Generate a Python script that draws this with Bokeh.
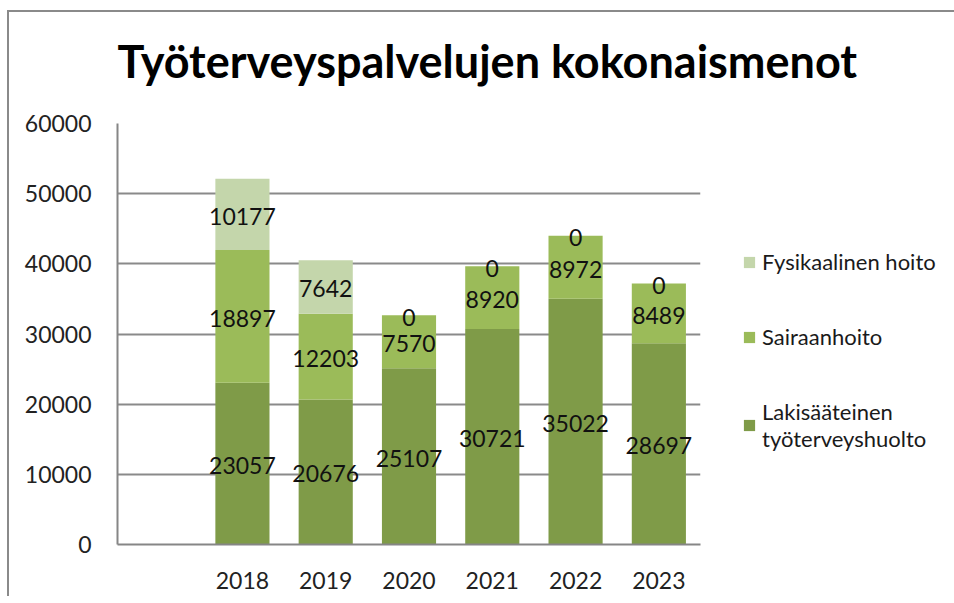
from bokeh.plotting import figure
from bokeh.models import (Range1d, FixedTicker, ColumnDataSource, Legend, LegendItem, LabelSet, Title)
from bokeh.core.properties import value
from bokeh.embed import file_html
from bokeh.resources import INLINE

title_text = "Työterveyspalvelujen kokonaismenot"
years = ["2018", "2019", "2020", "2021", "2022", "2023"]
lakisaateinen = [23057, 20676, 25107, 30721, 35022, 28697]
sairaanhoito = [18897, 12203, 7570, 8920, 8972, 8489]
fysikaalinen = [10177, 7642, 0, 0, 0, 0]
series_names = ["Lakisääteinen\ntyöterveyshuolto", "Sairaanhoito", "Fysikaalinen hoito"]
colors = ["#7F9B48", "#9BBB59", "#C4D6AB"]
y_ticks = [0, 10000, 20000, 30000, 40000, 50000, 60000]

FONT = "Lato"
xs = [i + 1 for i in range(len(years))]

data = dict(x=xs, a=lakisaateinen, b=sairaanhoito, c=fysikaalinen)
# label positions (segment centers)
data["ya"] = [v / 2 for v in lakisaateinen]
data["yb"] = [a + b / 2 for a, b in zip(lakisaateinen, sairaanhoito)]
data["yc"] = [a + b + c / 2 for a, b, c in zip(lakisaateinen, sairaanhoito, fysikaalinen)]
data["ta"] = [str(v) for v in lakisaateinen]
data["tb"] = [str(v) for v in sairaanhoito]
data["tc"] = [str(v) for v in fysikaalinen]
src = ColumnDataSource(data)

p = figure(frame_width=583, frame_height=421,
           x_range=Range1d(-0.5, len(years) + 0.5), y_range=Range1d(0, 60000),
           output_backend="svg", toolbar_location=None,
           min_border_left=108, min_border_top=111, min_border_right=244, min_border_bottom=52,
           background_fill_color="white", border_fill_color="white")
p.styles = {"border-top": "2px solid #8a8a8a", "border-left": "2px solid #8a8a8a",
            "margin-top": "10px", "margin-left": "7px"}
p.outline_line_color = None
p.title = None

# spacer between frame and title (nearest the frame), then the title
spacer = Title(text=" ", text_font_size="10px", standoff=18, text_color="white")
main_title = Title(text=title_text, text_font=FONT, text_font_size="45px",
                   text_font_style="bold", text_color="#000000", align="left",
                   offset=0, standoff=10)
p.add_layout(spacer, "above")
p.add_layout(main_title, "above")

renderers = p.vbar_stack(["a", "b", "c"], x="x", width=0.65, source=src,
                         color=colors, line_color=None)

for ycol, tcol in [("ya", "ta"), ("yb", "tb"), ("yc", "tc")]:
    ls = LabelSet(x="x", y=ycol, text=tcol, source=src, text_align="center",
                  text_baseline="middle", text_font=value(FONT), text_font_size=value("23px"),
                  text_color="#111111", y_offset=-2)
    p.add_layout(ls)

# axes
p.xaxis.ticker = FixedTicker(ticks=xs)
p.xaxis.major_label_overrides = {x: y for x, y in zip(xs, years)}
p.yaxis.ticker = FixedTicker(ticks=y_ticks)
for ax in (p.xaxis, p.yaxis):
    ax.major_label_text_font = FONT
    ax.major_label_text_font_size = "23px"
    ax.major_label_text_color = "#222222"
    ax.major_tick_line_color = None
    ax.minor_tick_line_color = None
    ax.axis_line_color = "#868686"
    ax.axis_line_width = 2
p.yaxis.major_label_standoff = 20
p.xaxis.major_label_standoff = 21
p.xgrid.grid_line_color = None
p.ygrid.grid_line_color = "#8a8a8a"
p.ygrid.grid_line_width = 2

items = [LegendItem(label=series_names[i], renderers=[renderers[i]]) for i in (2, 1, 0)]
legend = Legend(items=items, location=(42, 92), margin=0, padding=0,
                glyph_width=14, glyph_height=14, label_standoff=6, spacing=48,
                label_text_font=FONT, label_text_font_size="22px",
                label_text_color="#1a1a1a", border_line_color=None,
                background_fill_alpha=0)
p.add_layout(legend, "right")

open("out.html", "w").write(file_html(p, INLINE))
